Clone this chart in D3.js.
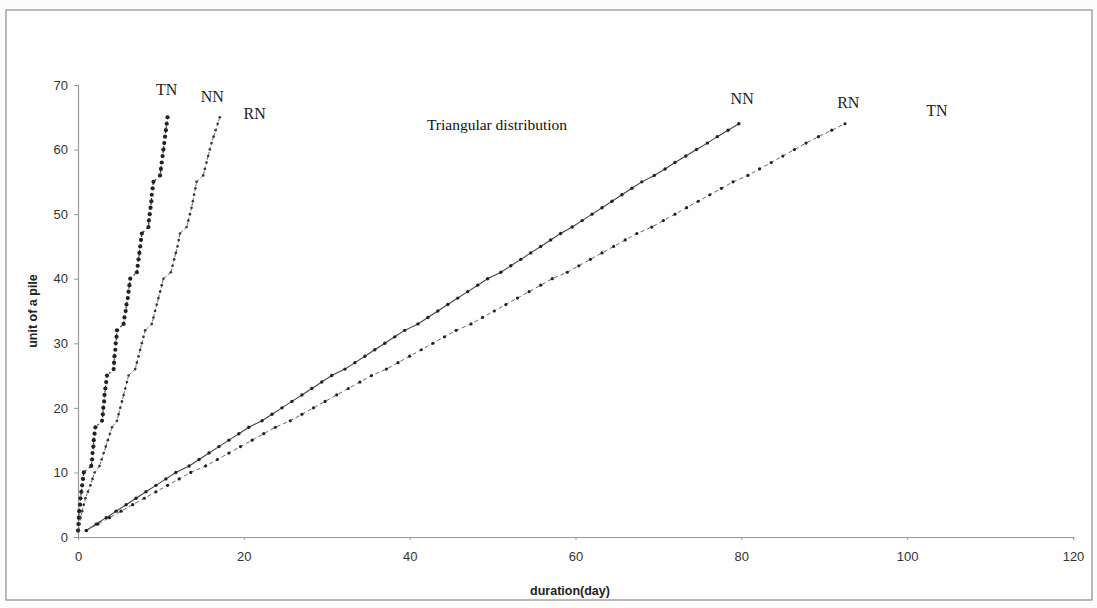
<!DOCTYPE html>
<html><head><meta charset="utf-8">
<script src="https://cdn.jsdelivr.net/npm/d3@7"></script>
<style>body{margin:0;background:#fcfcfc}svg{display:block}</style>
</head><body>
<script>
// Units (y) 1..N for each series
const unitsFast = d3.range(1, 66);
const unitsSlow = d3.range(1, 65);
// Steep curves (left)
const tnFastX = [0.0,0.05,0.1,0.15,0.25,0.3,0.4,0.5,0.6,0.7,
  1.6,1.7,1.75,1.85,1.9,2.0,2.1,
  2.9,3.0,3.05,3.15,3.2,3.3,3.4,3.5,
  4.3,4.35,4.4,4.5,4.55,4.65,4.7,
  5.5,5.6,5.75,5.85,6.0,6.1,6.2,6.3,
  7.1,7.2,7.3,7.4,7.5,7.6,7.7,
  8.5,8.55,8.65,8.75,8.85,8.9,9.0,9.1,
  9.9,10.0,10.1,10.2,10.3,10.4,10.5,10.6,10.7,10.8];
const nnFastX = [0.1,0.2,0.3,0.5,0.7,0.9,1.2,1.5,1.75,2.0,
  2.6,2.85,3.1,3.35,3.6,3.85,4.1,
  4.7,4.9,5.1,5.3,5.5,5.7,5.9,6.1,
  6.9,7.1,7.3,7.5,7.7,7.9,8.1,
  8.9,9.1,9.3,9.5,9.7,9.9,10.1,10.3,
  11.2,11.4,11.6,11.8,12.0,12.15,12.3,
  13.1,13.3,13.5,13.7,13.85,14.0,14.15,14.3,
  15.1,15.3,15.5,15.7,15.9,16.1,16.35,16.6,16.85,17.1];
// Long lines (right)
const nnSlowX = [1.0,2.2,3.4,4.6,5.8,7.0,8.2,9.4,10.6,11.8,
  13.4,14.6,15.8,17.0,18.2,19.4,20.6,
  22.2,23.4,24.6,25.8,27.0,28.2,29.4,30.6,
  32.2,33.4,34.6,35.8,37.0,38.2,39.4,
  41.0,42.2,43.4,44.6,45.8,47.0,48.2,49.4,
  51.0,52.2,53.4,54.6,55.8,57.0,58.2,
  59.6,60.8,62.0,63.2,64.4,65.6,66.8,68.0,
  69.5,70.8,72.0,73.3,74.6,75.9,77.1,78.4,79.7];
const rnSlowX = [1.0,2.4,3.8,5.2,6.6,8.0,9.4,10.8,12.2,13.6,
  15.4,16.8,18.2,19.6,21.0,22.4,23.8,
  25.6,27.0,28.4,29.8,31.2,32.6,34.0,35.4,
  37.2,38.6,40.0,41.4,42.8,44.2,45.6,
  47.4,48.8,50.2,51.6,53.0,54.4,55.8,57.2,
  59.0,60.4,61.8,63.2,64.6,66.0,67.4,
  69.2,70.6,72.0,73.4,74.8,76.2,77.6,79.0,
  80.8,82.2,83.6,85.0,86.4,87.8,89.3,90.9,92.5];
const xTicks = [0,20,40,60,80,100,120];
const yTicks = [0,10,20,30,40,50,60,70];
const curveLabels = [
  {text:"TN", x:10.7, y:69.0}, {text:"NN", x:16.2, y:68.0}, {text:"RN", x:21.3, y:65.3},
  {text:"NN", x:80.1, y:67.6}, {text:"RN", x:92.9, y:67.0}, {text:"TN", x:103.6, y:65.7}
];
const title = "Triangular distribution";

const W = 1097, H = 608;
const svg = d3.select("body").append("svg").attr("width", W).attr("height", H);
svg.append("rect").attr("x",6).attr("y",10).attr("width",1086).attr("height",590)
  .attr("fill","#fefefe").attr("stroke","#8a8a8a").attr("stroke-width",1.2);

const x = d3.scaleLinear().domain([0,120]).range([78,1073]);
const y = d3.scaleLinear().domain([0,70]).range([537,85]);

// axes
const xAx = svg.append("g").attr("transform","translate(0,537)")
  .call(d3.axisBottom(x).tickValues(xTicks).tickSize(3).tickPadding(12));
const yAx = svg.append("g").attr("transform","translate(78,0)")
  .call(d3.axisLeft(y).tickValues(yTicks).tickSize(4).tickPadding(6));
[xAx,yAx].forEach(g=>{
  g.select(".domain").attr("stroke","#9a9a9a").attr("stroke-width",1.2);
  g.selectAll(".tick line").attr("stroke","#9a9a9a");
  g.selectAll("text").attr("font-family","'Liberation Sans',Arial,sans-serif")
    .attr("font-size",13).attr("fill","#333");
});

svg.append("text").attr("x",570).attr("y",595).attr("text-anchor","middle")
  .attr("font-family","'Liberation Sans',Arial,sans-serif").attr("font-weight","bold")
  .attr("font-size",12.5).attr("fill","#222").text("duration(day)");
svg.append("text").attr("transform","translate(37,311) rotate(-90)").attr("text-anchor","middle")
  .attr("font-family","'Liberation Sans',Arial,sans-serif").attr("font-weight","bold")
  .attr("font-size",12.5).attr("fill","#222").text("unit of a pile");

const line = d3.line().x(d=>x(d[0])).y(d=>y(d[1]));
function series(xs, ys, opts){
  const pts = xs.map((v,i)=>[v, ys[i]]);
  svg.append("path").datum(pts).attr("d", line).attr("fill","none")
    .attr("stroke", opts.color).attr("stroke-width", opts.lw)
    .attr("stroke-dasharray", opts.dash || null);
  svg.append("g").selectAll("circle").data(pts).join("circle")
    .attr("cx",d=>x(d[0])).attr("cy",d=>y(d[1])).attr("r",opts.r).attr("fill",opts.dot);
}
series(tnFastX, unitsFast, {color:"#333", lw:1.2, dash:"2,3", r:2.1, dot:"#222"});
series(nnFastX, unitsFast, {color:"#555", lw:0.9, dash:"3,2", r:1.3, dot:"#333"});
series(nnSlowX, unitsSlow, {color:"#444", lw:1.1, r:1.7, dot:"#222"});
series(rnSlowX, unitsSlow, {color:"#555", lw:0.9, dash:"4,3", r:1.6, dot:"#222"});

svg.append("g").selectAll("text").data(curveLabels).join("text")
  .attr("x",d=>x(d.x)).attr("y",d=>y(d.y)).attr("text-anchor","middle")
  .attr("dominant-baseline","middle")
  .attr("font-family","'Liberation Serif','Times New Roman',serif").attr("font-size",16)
  .attr("fill","#222").text(d=>d.text);
svg.append("text").attr("x",497).attr("y",130).attr("text-anchor","middle")
  .attr("font-family","'Liberation Serif','Times New Roman',serif").attr("font-size",15.5)
  .attr("fill","#111").text(title);
</script>
</body></html>
